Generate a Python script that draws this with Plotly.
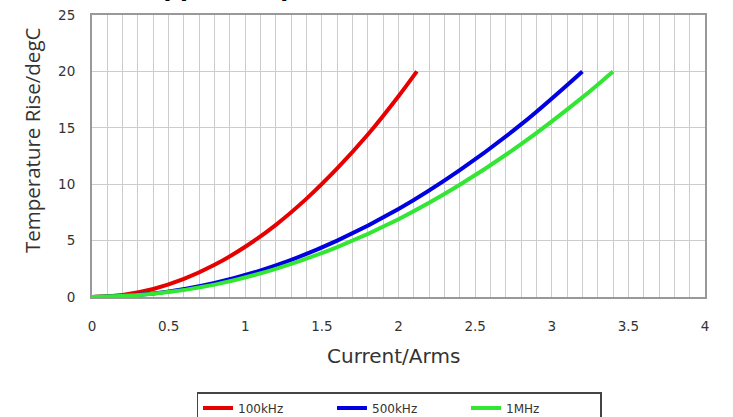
import plotly.graph_objects as go

# Data
x_100k = [0, 0.2, 0.4, 0.6, 0.8, 1.0, 1.2, 1.4, 1.6, 1.8, 2.0, 2.12]
y_100k = [0, 0.18, 0.71, 1.6, 2.85, 4.45, 6.4, 8.72, 11.4, 14.4, 17.8, 20.0]

x_500k = [0, 0.4, 0.8, 1.2, 1.6, 2.0, 2.4, 2.8, 3.2]
y_500k = [0, 0.31, 1.25, 2.8, 5.0, 7.8, 11.25, 15.3, 20.0]

x_1M = [0, 0.4, 0.8, 1.2, 1.6, 2.0, 2.4, 2.8, 3.2, 3.4]
y_1M = [0, 0.28, 1.1, 2.5, 4.43, 6.9, 9.95, 13.55, 17.7, 20.0]

series_names = ["100kHz", "500kHz", "1MHz"]
series_colors = ["#e60000", "#0000e0", "#33e633"]

x_ticks = [0, 0.5, 1, 1.5, 2, 2.5, 3, 3.5, 4]
x_ticklabels = ["0", "0.5", "1", "1.5", "2", "2.5", "3", "3.5", "4"]
y_ticks = [0, 5, 10, 15, 20, 25]

title_text = "Ripple Temperature Rise Characteristics"
x_title = "Current/Arms"
y_title = "Temperature Rise/degC"

fig = go.Figure()
for xs, ys, name, col in zip([x_100k, x_500k, x_1M], [y_100k, y_500k, y_1M],
                             series_names, series_colors):
    fig.add_trace(go.Scatter(x=xs, y=ys, name=name, mode="lines",
                             line=dict(color=col, width=4, shape="spline", smoothing=1.0)))

tick_font = dict(family="DejaVu Sans", size=13.5, color="#333333")

fig.update_layout(
    width=733, height=417,
    margin=dict(l=92, r=28, t=15, b=120, autoexpand=False),
    paper_bgcolor="white", plot_bgcolor="white",
    showlegend=True,
    legend=dict(orientation="h", x=399 / 733, xanchor="center", xref="container",
                y=1 - 392 / 417, yanchor="top", yref="container",
                bordercolor="#444444", borderwidth=1.5,
                font=dict(family="DejaVu Sans", size=12, color="#333333"),
                entrywidth=89, tracegroupgap=0),
    annotations=[
        dict(text="<b>" + title_text + "</b>", xref="paper", yref="paper",
             x=0.50, y=1.0, xanchor="center", yanchor="bottom",
             yshift=12, showarrow=False,
             font=dict(family="DejaVu Sans", size=23, color="black")),
        dict(text=x_title, xref="paper", yref="paper",
             x=(393 - 92) / 613, y=0, xanchor="center", yanchor="middle",
             yshift=-(356 - 297), showarrow=False,
             font=dict(family="DejaVu Sans", size=20, color="#333333")),
        dict(text=y_title, xref="paper", yref="paper", textangle=-90,
             x=0, y=(297 - 140) / 282, xanchor="center", yanchor="middle",
             xshift=-(92 - 32), showarrow=False,
             font=dict(family="Open Sans", size=20.5, color="#333333")),
    ],
)

fig.update_xaxes(range=[0, 4], tickvals=x_ticks, ticktext=x_ticklabels,
                 tickfont=tick_font, ticks="", ticklabelstandoff=16,
                 showgrid=True, gridcolor="#cccccc", gridwidth=1,
                 minor=dict(dtick=0.1, showgrid=True, gridcolor="#cccccc", gridwidth=1),
                 showline=True, linecolor="#999999", linewidth=2, mirror=True,
                 zeroline=False, automargin=False)
fig.update_yaxes(range=[0, 25], tickvals=y_ticks,
                 tickfont=tick_font, ticks="", ticklabelstandoff=12,
                 showgrid=True, gridcolor="#cccccc", gridwidth=1,
                 showline=True, linecolor="#999999", linewidth=2, mirror=True,
                 zeroline=False, automargin=False)

fig.write_html("out.html", config={"displayModeBar": False},
               post_script="document.body.style.margin='0';document.body.style.padding='0';")
